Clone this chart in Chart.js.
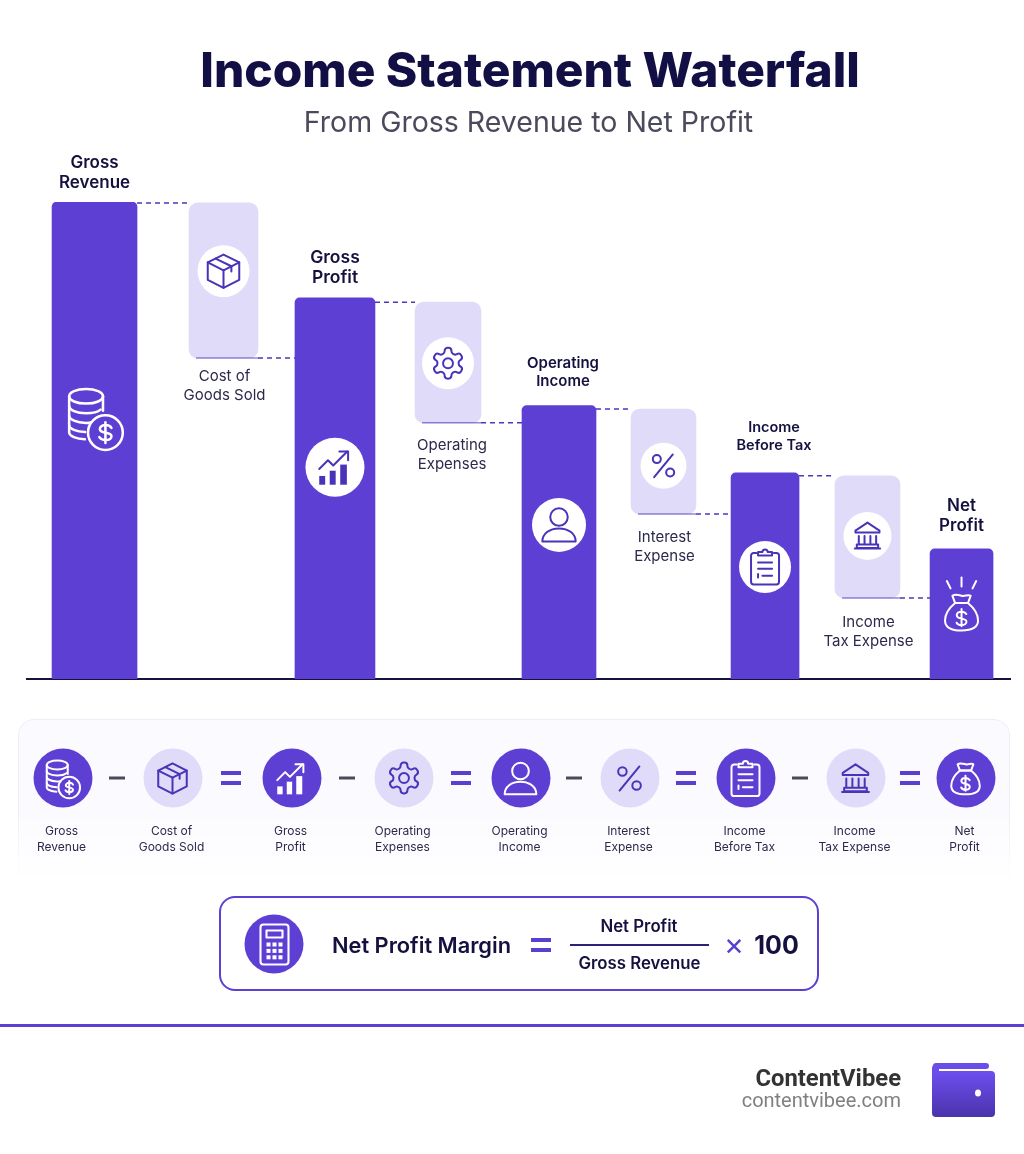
<!DOCTYPE html>
<html>
<head>
<meta charset="utf-8">
<title>Income Statement Waterfall</title>
<script src="https://cdn.jsdelivr.net/npm/chart.js@4"></script>
<style>
  html, body { margin: 0; background: #fff; }
  #page { position: relative; width: 1024px; height: 1154px; overflow: hidden; font-family: Inter, sans-serif; color: #14113f; }
  #page > * { position: absolute; }
  canvas { left: 0; top: 0; }
  .mid { transform: translate(-50%, -50%); white-space: nowrap; text-align: center; }
  h1 { margin: 0; left: 530px; top: 70px; font-size: 47.8px; font-weight: 800; color: #120f45; }
  h2 { margin: 0; left: 528.5px; top: 121px; font-size: 28.5px; font-weight: 400; color: #4a4a5c; }
  #strip { left: 18px; top: 719px; width: 992px; height: 165px; box-sizing: border-box; border: 1px solid #eeecf6; border-bottom: 0; border-radius: 16px 16px 0 0; background: #fbfafe;
    -webkit-mask-image: linear-gradient(#000 55%, transparent); mask-image: linear-gradient(#000 55%, transparent); }
  .disc { width: 59px; height: 59px; border-radius: 50%; display: flex; align-items: center; justify-content: center; }
  .stepname { font-size: 12px; line-height: 16px; color: #2c2a4a; }
  .minus { width: 16px; height: 3px; background: #4a4a5a; }
  .equal { width: 20px; height: 14px; border-top: 4px solid #5a3fd0; border-bottom: 4px solid #5a3fd0; box-sizing: border-box; }
  #formula { left: 219px; top: 896px; width: 600px; height: 95px; box-sizing: border-box; border: 2px solid #5e3fd4; border-radius: 16px; }
  #rule { left: 0; top: 1024px; width: 1024px; height: 3px; background: #5e3fd4; }
  .brand { right: 123px; font-family: Roboto, sans-serif; white-space: nowrap; }
  #wallet { left: 932px; top: 1062px; width: 63px; height: 55px; }
</style>
</head>
<body>
<div id="page">
  <canvas id="myChart" width="1024" height="1154"></canvas>
  <h1 class="mid">Income Statement Waterfall</h1>
  <h2 class="mid">From Gross Revenue to Net Profit</h2>
  <div id="strip"></div>
  <div id="formula"></div>
  <div class="mid" style="left:421.5px;top:945px;font-size:21.8px;font-weight:600">Net Profit Margin</div>
  <div class="equal mid" style="left:541px;top:945px;width:20px"></div>
  <div class="mid" style="left:639px;top:926px;font-size:16.8px;font-weight:600">Net Profit</div>
  <div style="left:570px;top:944px;width:139px;height:2px;background:#2c2377"></div>
  <div class="mid" style="left:639.5px;top:963px;font-size:16.8px;font-weight:600">Gross Revenue</div>
  <div class="mid" style="left:734px;top:943px;font-size:31px;color:#5a3fd0">×</div>
  <div class="mid" style="left:776.5px;top:945px;font-size:25px;font-weight:700">100</div>
  <div id="rule"></div>
  <div class="brand" style="top:1064px;font-size:23.8px;font-weight:700;color:#333">ContentVibee</div>
  <div class="brand" style="top:1088px;font-size:20px;color:#808080">contentvibee.com</div>
  <svg id="wallet" viewBox="0 0 63 55">
    <defs><linearGradient id="wg" x1="0" y1="0" x2="0" y2="1"><stop offset="0" stop-color="#6d4ff0"/><stop offset="1" stop-color="#4a33ab"/></linearGradient></defs>
    <rect x="1" y="1" width="56" height="6" rx="3" fill="#6a4de8"/>
    <rect x="0" y="3" width="7" height="12" rx="3" fill="#6a4de8"/>
    <rect x="0" y="9" width="63" height="46" rx="4" fill="url(#wg)"/>
    <ellipse cx="46" cy="31" rx="3" ry="3.5" fill="#fff"/>
  </svg>
</div>
<script>
const categories = [
  ["Gross", "Revenue"],
  ["Cost of", "Goods Sold"],
  ["Gross", "Profit"],
  ["Operating", "Expenses"],
  ["Operating", "Income"],
  ["Interest", "Expense"],
  ["Income", "Before Tax"],
  ["Income", "Tax Expense"],
  ["Net", "Profit"],
];
// gross revenue = 100
const barHigh = [100, 99.8, 79.9, 79, 57.3, 56.6, 43.2, 42.6, 27.3];
const barLow = [0, 67.3, 0, 53.7, 0, 34.6, 0, 17, 0];
const totals = [true, false, true, false, true, false, true, false, true];

// layout, not data
const slotStops = [0.0687, 0.1999, 0.3133, 0.4283, 0.5412, 0.6475, 0.7508, 0.855, 0.9507];
const barWidths = [85, 69, 80, 66, 74, 65, 68, 65, 63];
const labelShift = [0, 1, 0, 4, 4, 1, 9, 1, 0];
const labelGap = [19, 19, 20, 23, 24, 24, 27, 25, 23];
const labelLeading = [20, 19, 20, 19, 18, 19, 18, 19, 20];
const labelSize = [17, 15, 17.5, 15, 15, 15, 14.5, 15, 17];
const iconNames = ["coins", "box", "growth", "gear", "person", "percent", "clipboard", "bank", "bag"];
const iconLevel = [54.7, 85.5, 44.4, 66.2, 32.3, 44.7, 23.5, 30, 14];
const iconDisc = [0, 26, 29.5, 26, 27, 23, 26, 24, 0];
const iconSize = [58, 42, 42, 37, 42, 32, 42, 32, 44];
const stepIconSize = [36, 38, 38, 37, 40, 34, 42, 34, 38];
const stepCentres = [62.5, 172.5, 291.5, 403.5, 520.5, 629.5, 745.5, 855.5, 965.5];
const opCentres = [117, 231, 347, 461, 574, 686, 800, 910];

const DARK = "#5e3fd4";
const LIGHT = "#e0dbf9";
const INK = "#4a33b8";

const ICONS = {
  coins: { s: ["M1.5 3C1.5 1.3 4.5 0 8.5 0S15.5 1.3 15.5 3 12.5 6 8.5 6 1.5 4.7 1.5 3Z", "M1.5 3v15c0 1.4 3 2.6 6.5 2.8", "M15.5 3v6", "M1.5 7c0 1.6 3 3 7 3 2.7 0 5-.6 6-1.5", "M1.5 11c0 1.6 3 2.8 7 3 1 0 1.3 0 2-.2", "M1.5 15c0 1.5 3 2.6 6.6 2.8", "M23.7 18a7.2 7.2 0 1 1-14.4 0 7.2 7.2 0 1 1 14.4 0Z", "M19 16.1c-.4-.8-1.3-1.2-2.4-1.2-1.3 0-2.4.6-2.4 1.6 0 2.2 4.8 1 4.8 3 0 1-1 1.6-2.5 1.6-1.1 0-2-.4-2.5-1.2M16.5 13.7v8.6"], f: [] },
  box: { s: ["M12 2.5 21 7v10l-9 4.5L3 17V7z", "M3 7l9 4.5L21 7", "M12 11.5v10", "M7.5 4.8l9 4.4v3"], f: [] },
  growth: { s: ["M3 13l5-5 3 3 8-8", "M14.5 3H19.5V8"], f: ["M3 17h3.4v5H3z", "M9 14h3.4v8H9z", "M15 10.5h3.8V22H15z"] },
  gear: { s: ["M12.22 2h-.44a2 2 0 0 0-2 2v.18a2 2 0 0 1-1 1.73l-.43.25a2 2 0 0 1-2 0l-.15-.08a2 2 0 0 0-2.73.73l-.22.38a2 2 0 0 0 .73 2.73l.15.1a2 2 0 0 1 1 1.72v.51a2 2 0 0 1-1 1.74l-.15.09a2 2 0 0 0-.73 2.73l.22.38a2 2 0 0 0 2.73.73l.15-.08a2 2 0 0 1 2 0l.43.25a2 2 0 0 1 1 1.73V20a2 2 0 0 0 2 2h.44a2 2 0 0 0 2-2v-.18a2 2 0 0 1 1-1.73l.43-.25a2 2 0 0 1 2 0l.15.08a2 2 0 0 0 2.73-.73l.22-.39a2 2 0 0 0-.73-2.73l-.15-.08a2 2 0 0 1-1-1.74v-.5a2 2 0 0 1 1-1.74l.15-.09a2 2 0 0 0 .73-2.73l-.22-.38a2 2 0 0 0-2.73-.73l-.15.08a2 2 0 0 1-2 0l-.43-.25a2 2 0 0 1-1-1.73V4a2 2 0 0 0-2-2z", "M15.2 12a3.2 3.2 0 1 1-6.4 0 3.2 3.2 0 1 1 6.4 0z"], f: [] },
  person: { s: ["M17 7.5a5 5 0 1 1-10 0 5 5 0 1 1 10 0z", "M2.5 21.5c0-4.5 4-7.5 9.5-7.5s9.5 3 9.5 7.5z"], f: [] },
  percent: { s: ["M19 3.5 5 20.5", "M10 7a3 3 0 1 1-6 0 3 3 0 1 1 6 0z", "M20 17a3 3 0 1 1-6 0 3 3 0 1 1 6 0z"], f: [] },
  clipboard: { s: ["M7 4H5.5A1.5 1.5 0 0 0 4 5.5v15A1.5 1.5 0 0 0 5.5 22h13a1.5 1.5 0 0 0 1.5-1.5v-15A1.5 1.5 0 0 0 18.5 4H17", "M8 5.5V3.5h2.5a1.5 1.5 0 0 1 3 0H16v2z", "M8 9.5h8", "M8 13h8", "M10.5 17H16", "M8 16v2"], f: [] },
  bank: { s: ["M12 2 3 8v1.5h18V8z", "M5.5 12v6M9.8 12v6M14.2 12v6M18.5 12v6", "M4 18.5h16v2.5H4z", "M2.5 21.5h19"], f: [] },
  bag: { s: ["M8.5 7c-3 2.5-5.5 6-5.5 9.5C3 20 6 22 12 22s9-2 9-5.5c0-3.5-2.5-7-5.5-9.5z", "M8.5 7 7 3c1.5-1 3-.5 5 0s3.5-1 5 0L15.5 7", "M8.5 7h7", "M14.6 13c-.5-.9-1.4-1.3-2.6-1.3-1.5 0-2.6.8-2.6 1.9 0 2.6 5.3 1.2 5.3 3.6 0 1.1-1.2 1.9-2.7 1.9-1.3 0-2.3-.5-2.7-1.4M12 10.3v9.4"], f: [] },
  calc: { s: ["M6.5 2h11A1.5 1.5 0 0 1 19 3.5v17a1.5 1.5 0 0 1-1.5 1.5h-11A1.5 1.5 0 0 1 5 20.5v-17A1.5 1.5 0 0 1 6.5 2z", "M8 5h8v3.5H8z"], f: ["M8 11h2v2H8z", "M11 11h2v2h-2z", "M14 11h2v2h-2z", "M8 14.2h2v2H8z", "M11 14.2h2v2h-2z", "M14 14.2h2v2h-2z", "M8 17.4h2v2H8z", "M11 17.4h2v2h-2z", "M14 17.4h2v2h-2z"] },
};
const sparks = ["M12 -2v-5", "M6 -1 4 -5", "M18 -1 20 -5"];

// category scale whose slots are not evenly spaced
class SlottedScale extends Chart.CategoryScale {
  getPixelForValue(value) {
    const i = typeof value === "number" ? value : this.parse(value);
    return this.getPixelForDecimal(slotStops[i]);
  }
}
SlottedScale.id = "slotted";
SlottedScale.defaults = Chart.CategoryScale.defaults;
Chart.register(SlottedScale);

function strokeFor(size) {
  const k = size / 24;
  return Math.max(2, k * 1.05) / k;
}

function drawIcon(ctx, name, cx, cy, size, color, extra) {
  const k = size / 24;
  ctx.save();
  ctx.translate(cx - size / 2, cy - size / 2);
  ctx.scale(k, k);
  ctx.strokeStyle = color;
  ctx.fillStyle = color;
  ctx.lineWidth = strokeFor(size);
  ctx.lineJoin = "round";
  ctx.lineCap = "round";
  ICONS[name].s.concat(extra || []).forEach((d) => ctx.stroke(new Path2D(d)));
  ICONS[name].f.forEach((d) => ctx.fill(new Path2D(d)));
  ctx.restore();
}

const waterfallMarks = {
  id: "waterfallMarks",
  afterDatasetsDraw(chart) {
    const ctx = chart.ctx;
    const y = chart.scales.y;
    const bars = categories.map((c, i) => chart.getDatasetMeta(i).data[i]);

    // dashed connectors
    ctx.save();
    ctx.strokeStyle = "#4f36bd";
    ctx.lineWidth = 1.5;
    ctx.setLineDash([5, 4]);
    bars.slice(0, -1).forEach((bar, i) => {
      const next = bars[i + 1];
      const py = totals[i] ? next.y : bar.base;
      ctx.beginPath();
      ctx.moveTo(bar.x + bar.width / 2, py);
      ctx.lineTo(next.x - next.width / 2, py);
      ctx.stroke();
    });
    ctx.setLineDash([]);
    ctx.globalAlpha = 0.6;
    bars.forEach((bar, i) => {
      if (totals[i]) return;
      ctx.beginPath();
      ctx.moveTo(bar.x - bar.width / 2 + 7, bar.base);
      ctx.lineTo(bar.x + bar.width / 2, bar.base);
      ctx.stroke();
    });
    ctx.restore();

    // icons
    bars.forEach((bar, i) => {
      const cy = y.getPixelForValue(iconLevel[i]);
      if (iconDisc[i]) {
        ctx.fillStyle = "#fff";
        ctx.beginPath();
        ctx.arc(bar.x, cy, iconDisc[i], 0, Math.PI * 2);
        ctx.fill();
      }
      const color = iconDisc[i] ? INK : "#fff";
      drawIcon(ctx, iconNames[i], bar.x, cy, iconSize[i], color, iconNames[i] === "bag" ? sparks : null);
    });

    // labels
    ctx.save();
    ctx.textAlign = "center";
    ctx.textBaseline = "middle";
    bars.forEach((bar, i) => {
      const lines = chart.data.labels[i];
      ctx.font = (totals[i] ? "600 " : "400 ") + labelSize[i] + "px Inter, sans-serif";
      ctx.fillStyle = totals[i] ? "#14113f" : "#2b2a4a";
      const first = totals[i] ? bar.y - labelGap[i] - labelLeading[i] : bar.base + labelGap[i];
      lines.forEach((t, k) => ctx.fillText(t, bar.x + labelShift[i], first + k * labelLeading[i]));
    });
    ctx.restore();
  },
};

new Chart(document.getElementById("myChart"), {
  type: "bar",
  data: {
    labels: categories,
    datasets: categories.map((c, i) => ({
      label: c.join(" "),
      data: categories.map((_, j) => (j === i ? [barLow[i], barHigh[i]] : null)),
      barThickness: barWidths[i],
      grouped: false,
      backgroundColor: totals[i] ? DARK : LIGHT,
      borderSkipped: false,
      borderRadius: totals[i] ? { topLeft: 5, topRight: 5, bottomLeft: 0, bottomRight: 0 } : 9,
    })),
  },
  options: {
    responsive: false,
    animation: false,
    layout: { padding: { left: 27, right: 14, top: 202, bottom: 467 } },
    plugins: { legend: { display: false }, tooltip: { enabled: false } },
    scales: {
      x: {
        type: "slotted",
        stacked: true,
        grid: { display: false },
        border: { display: true, color: "#14123f", width: 2 },
        ticks: { display: false },
      },
      y: { display: false, min: 0, max: 100 },
    },
  },
  plugins: [waterfallMarks],
});

// equation strip under the chart
function iconSvg(name, size, color) {
  const w = strokeFor(size);
  const strokes = ICONS[name].s.map((d) => `<path d="${d}" fill="none" stroke="${color}" stroke-width="${w}" stroke-linecap="round" stroke-linejoin="round"/>`);
  const fills = ICONS[name].f.map((d) => `<path d="${d}" fill="${color}"/>`);
  return `<svg width="${size}" height="${size}" viewBox="0 0 24 24" style="overflow:visible;flex:none">${strokes.join("")}${fills.join("")}</svg>`;
}
function addEl(html, cls, left, top, bg) {
  const el = document.createElement("div");
  el.className = cls + " mid";
  el.style.left = left + "px";
  el.style.top = top + "px";
  if (bg) el.style.background = bg;
  el.innerHTML = html;
  document.getElementById("page").appendChild(el);
}
categories.forEach((c, i) => {
  addEl(iconSvg(iconNames[i], stepIconSize[i], totals[i] ? "#fff" : INK), "disc", stepCentres[i], 778, totals[i] ? DARK : LIGHT);
  addEl(c.join("<br>"), "stepname", stepCentres[i] - 1, 838.5);
});
opCentres.forEach((x, i) => addEl("", i % 2 ? "equal" : "minus", x, 778));
addEl(iconSvg("calc", 48, "#fff"), "disc", 274, 944, DARK);
</script>
</body>
</html>
